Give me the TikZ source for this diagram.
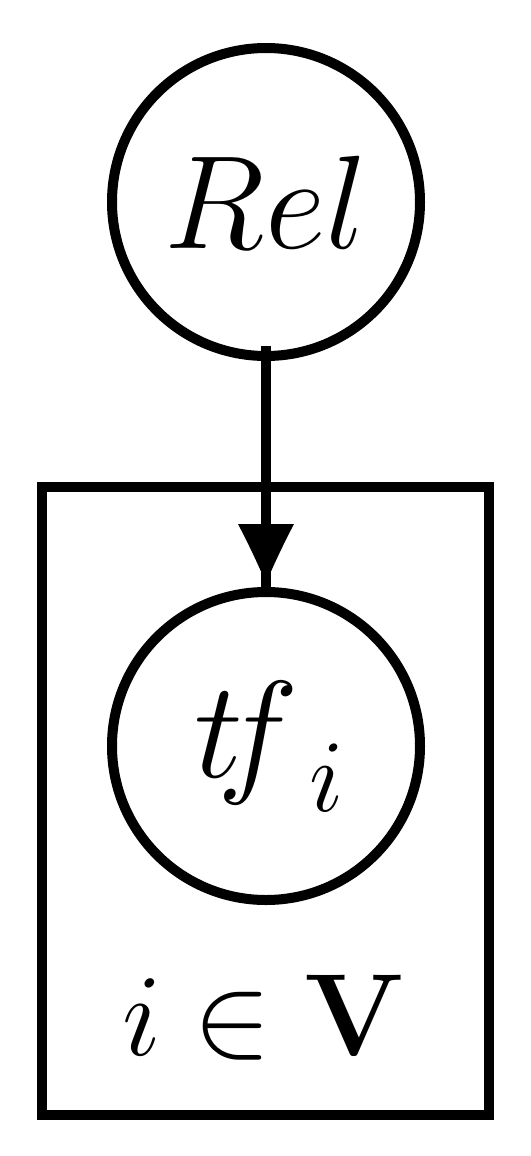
\RequirePackage{fix-cm}
\documentclass[tikz,border=0pt]{standalone}
\usetikzlibrary{decorations.markings}
\pgfdeclarearrow{
  name=PGMHead,
  setup code={
    \pgfarrowssettipend{0pt}
    \pgfarrowssetlineend{-50pt}
    \pgfarrowssetbackend{-59pt}
    \pgfarrowshullpoint{0pt}{0pt}
    \pgfarrowshullpoint{-59pt}{28pt}
    \pgfarrowshullpoint{-59pt}{-28pt}
  },
  drawing code={
    \pgfpathmoveto{\pgfpoint{0pt}{0pt}}
    \pgfpathcurveto{\pgfpoint{-20pt}{8.5pt}}{\pgfpoint{-40pt}{18pt}}{\pgfpoint{-59pt}{28pt}}
    \pgfpathlineto{\pgfpoint{-59pt}{-28pt}}
    \pgfpathcurveto{\pgfpoint{-40pt}{-18pt}}{\pgfpoint{-20pt}{-8.5pt}}{\pgfpoint{0pt}{0pt}}
    \pgfpathclose
    \pgfusepathqfill
  }
}
\tikzset{
  pgmnode/.style={circle, draw, line width=10pt, minimum size=308pt, inner sep=0pt, outer sep=0pt},
  bigmath/.style={font=\fontsize{133}{140}\selectfont},
  platebox/.style={draw, line width=10pt},
  platetext/.style={font=\fontsize{117}{120}\selectfont, anchor=base, inner sep=0pt},
  edge/.style={line width=10pt, shorten <=-10pt,
    decoration={markings, mark=at position -9pt with {\arrow{PGMHead}}},
    postaction={decorate}}
}
\begin{document}
\begin{tikzpicture}[x=1pt,y=1pt]
\useasboundingbox (0,0) rectangle (530,-1156);
\draw[platebox] (42,-487) rectangle (489,-1115);
\node[pgmnode, bigmath] (Rel) at (266,-202) {$Rel$};
\node[pgmnode] (tf) at (266,-746) {};
\node[anchor=base west, inner sep=0pt] (tflabel) at (194,-777)
  {{\fontsize{138}{140}\selectfont$t\kern-25pt f$}\kern10pt\raisebox{-34pt}{\fontsize{103}{103}\selectfont$i$}};
\node[platetext] (plate) at (264,-1055) {$i\in\mathbf{V}$};
\draw[edge] (Rel.south) -- (tf.north);
\end{tikzpicture}
\end{document}
